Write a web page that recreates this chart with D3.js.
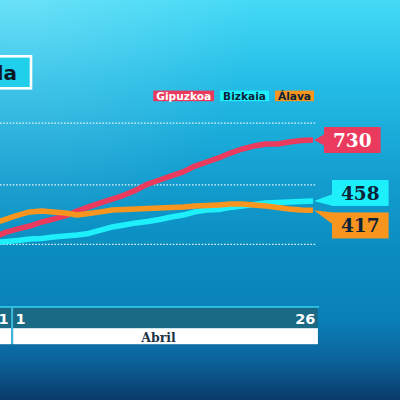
<!DOCTYPE html>
<html><head><meta charset="utf-8">
<script src="https://cdn.jsdelivr.net/npm/d3@7"></script>
<style>html,body{margin:0;padding:0;overflow:hidden;background:#0b5f95}</style>
</head><body>
<svg id="c" width="400" height="400"></svg>
<script>
const titleText = "Incidencia acumulada";
const dates = ["2020-03-30","2020-03-31","2020-04-01","2020-04-02","2020-04-03","2020-04-04","2020-04-05",
  "2020-04-06","2020-04-07","2020-04-08","2020-04-09","2020-04-10","2020-04-11","2020-04-12","2020-04-13",
  "2020-04-14","2020-04-15","2020-04-16","2020-04-17","2020-04-18","2020-04-19","2020-04-20","2020-04-21",
  "2020-04-22","2020-04-23","2020-04-24","2020-04-25","2020-04-26"];
const gipuzkoa = [298,320,334,347,365,378,392,414,432,450,467,485,507,534,552,570,588,614,632,650,672,690,703,712,712,721,728,730];
const bizkaia  = [274,278,283,289,292,298,303,307,314,329,343,352,361,367,376,387,396,410,418,421,430,436,443,450,452,454,456,458];
const alava    = [361,378,396,410,414,410,405,396,403,410,418,421,423,425,427,430,432,436,438,441,445,445,441,436,430,423,418,417];
const seriesNames = ["Gipuzkoa","Bizkaia","Álava"];
const seriesColors = ["#ea3a5d","#1ef0fb","#f7951e"];
const labelTextColors = ["#ffffff","#0b2338","#0b2338"];
const gridValues = [265, 530, 805];
const dayTickDates = ["2020-03-31","2020-04-01","2020-04-26"];
const monthNames = ["Marzo","Abril"];
const monthStarts = ["2020-03-01","2020-04-01"];
const monthEnds = ["2020-03-31","2020-04-26"];

const parse = d3.utcParse("%Y-%m-%d");
const svg = d3.select("#c");
const defs = svg.append("defs");

// background
const bg = defs.append("linearGradient").attr("id","bg").attr("x1",0).attr("y1",0).attr("x2",0).attr("y2",1);
[[0,"#44daf6"],[0.2,"#24bde6"],[0.45,"#139dcf"],[0.62,"#0b8dc1"],[0.8,"#0a80b8"],[0.9,"#0b639a"],[1,"#0b3a6a"]]
  .forEach(([o,c]) => bg.append("stop").attr("offset",o).attr("stop-color",c));
const hl = defs.append("radialGradient").attr("id","hl").attr("cx",0.05).attr("cy",0).attr("r",0.6);
hl.append("stop").attr("offset",0).attr("stop-color","#ffffff").attr("stop-opacity",0.2);
hl.append("stop").attr("offset",1).attr("stop-color","#ffffff").attr("stop-opacity",0);
svg.append("rect").attr("width",400).attr("height",400).attr("fill","url(#bg)");
svg.append("rect").attr("width",400).attr("height",400).attr("fill","url(#hl)");

const x = d3.scaleUtc().domain([parse("2020-03-31"), parse("2020-04-26")]).range([6.2, 313]);
const y = d3.scaleLinear().domain([0, 730]).range([304, 140]);
const dw = x(parse("2020-04-02")) - x(parse("2020-04-01"));
const xEnd = x(parse(dates[dates.length-1]));

// grid
svg.append("g").selectAll("line").data(gridValues).join("line")
  .attr("x1",0).attr("x2",xEnd+3).attr("y1",d=>y(d)).attr("y2",d=>y(d))
  .attr("stroke","#ffffff").attr("stroke-opacity",0.85).attr("stroke-width",1.2)
  .attr("stroke-dasharray","1.6,1.6");

// title
svg.append("rect").attr("x",-10).attr("y",56.3).attr("width",41).attr("height",32)
  .attr("fill","#20cfe9").attr("stroke","#ffffff").attr("stroke-width",2.6);
svg.append("text").attr("x",17).attr("y",80).attr("text-anchor","end")
  .attr("font-family","DejaVu Sans").attr("font-weight","bold").attr("font-size",20)
  .attr("fill","#0a1726").text(titleText);

// legend (right-aligned)
const lg = svg.append("g");
let lx = 314;
const legendItems = seriesNames.map((n,i)=>({n,i})).reverse();
legendItems.forEach(({n,i}) => {
  const t = lg.append("text").attr("y",99.8).attr("font-family","DejaVu Sans").attr("font-weight","bold")
    .attr("font-size",10.6).attr("fill",labelTextColors[i]).attr("text-anchor","middle").text(n);
  const w = t.node().getComputedTextLength() + 6;
  lx -= w;
  lg.insert("rect","text").attr("x",lx).attr("y",90.6).attr("width",w).attr("height",10.6).attr("fill",seriesColors[i]);
  t.attr("x", lx + w/2);
  lx -= 6;
});

// lines
const series = [gipuzkoa, bizkaia, alava];
const line = d3.line().x((d,j)=>x(parse(dates[j]))).y(d=>y(d));
series.forEach((s,i) => {
  svg.append("path").attr("d", line(s)).attr("fill","none").attr("stroke",seriesColors[i])
    .attr("stroke-width",5.5).attr("stroke-linejoin","round").attr("stroke-linecap","butt");
});

// value labels with collision shift
const boxH = 26;
const labels = series.map((s,i)=>({i, v:s[s.length-1], ly:y(s[s.length-1])}))
  .sort((a,b)=>a.ly-b.ly);
labels.forEach(l => l.cy = l.ly);
for (let k=1;k<labels.length;k++){
  const a = labels[k-1], b = labels[k];
  const need = boxH + 6.5 - (b.cy - a.cy);
  if (need > 0){ a.cy -= need*0.35; b.cy += need*0.65; }
}
labels.forEach(l => {
  const shift = Math.abs(l.cy - l.ly);
  const x0 = xEnd + 11 + Math.min(8, shift);
  const g = svg.append("g");
  const t = g.append("text").attr("y", l.cy + 6.6).attr("font-family","DejaVu Serif").attr("font-weight","bold")
    .attr("font-size",18.5).attr("fill",labelTextColors[l.i]).attr("text-anchor","middle").text(l.v);
  const w = t.node().getComputedTextLength() + 18;
  t.attr("x", x0 + w/2);
  const top = l.cy - boxH/2, bot = l.cy + boxH/2;
  const bc = Math.max(top+6, Math.min(bot-6, l.ly));
  g.insert("polygon","text").attr("points", [[xEnd+1,l.ly],[x0+1,bc-6],[x0+1,bc+6]].map(p=>p.join(",")).join(" "))
    .attr("fill",seriesColors[l.i]);
  g.insert("rect","text").attr("x",x0).attr("y",top).attr("width",w).attr("height",boxH).attr("fill",seriesColors[l.i]);
});

// time axis bands
const ax = svg.append("g");
const bands = monthNames.map((n,i)=>({n, x0: x(parse(monthStarts[i])) - dw/2, x1: x(parse(monthEnds[i])) + dw/2}));
ax.append("line").attr("x1",-10).attr("x2",bands[bands.length-1].x1).attr("y1",307).attr("y2",307)
  .attr("stroke","#3fd8f2").attr("stroke-width",1.6);
bands.forEach(b => {
  ax.append("rect").attr("x",b.x0+1).attr("y",307.8).attr("width",b.x1-b.x0-2).attr("height",20.4).attr("fill","#1a6a86");
  ax.append("rect").attr("x",b.x0+1).attr("y",328.2).attr("width",b.x1-b.x0-2).attr("height",16).attr("fill","#ffffff");
  const cx = (b.x0+b.x1)/2 - 7;
  if (cx > 20) {
    ax.append("text").attr("x",cx).attr("y",341.8).attr("text-anchor","middle")
      .attr("font-family","DejaVu Serif").attr("font-weight","bold").attr("font-size",12.5)
      .attr("fill","#1d3346").text(b.n);
  }
});
bands.slice(1).forEach(b => {
  ax.append("line").attr("x1",b.x0).attr("x2",b.x0).attr("y1",307).attr("y2",344.2)
    .attr("stroke","#3fb6dc").attr("stroke-width",2);
});
dayTickDates.forEach(ds => {
  const dt = parse(ds);
  const bi = bands.findIndex((b,i)=> dt >= parse(monthStarts[i]) && dt <= parse(monthEnds[i]));
  const b = bands[bi];
  const isStart = ds === monthStarts[bi];
  ax.append("text").attr("x", isStart ? b.x0 + 3.5 : b.x1 - 3.5).attr("y",323.5)
    .attr("text-anchor", isStart ? "start" : "end")
    .attr("font-family","DejaVu Sans").attr("font-weight","bold").attr("font-size",14.5)
    .attr("fill","#ffffff").text(d3.utcFormat("%-d")(dt));
});
</script>
</body></html>
